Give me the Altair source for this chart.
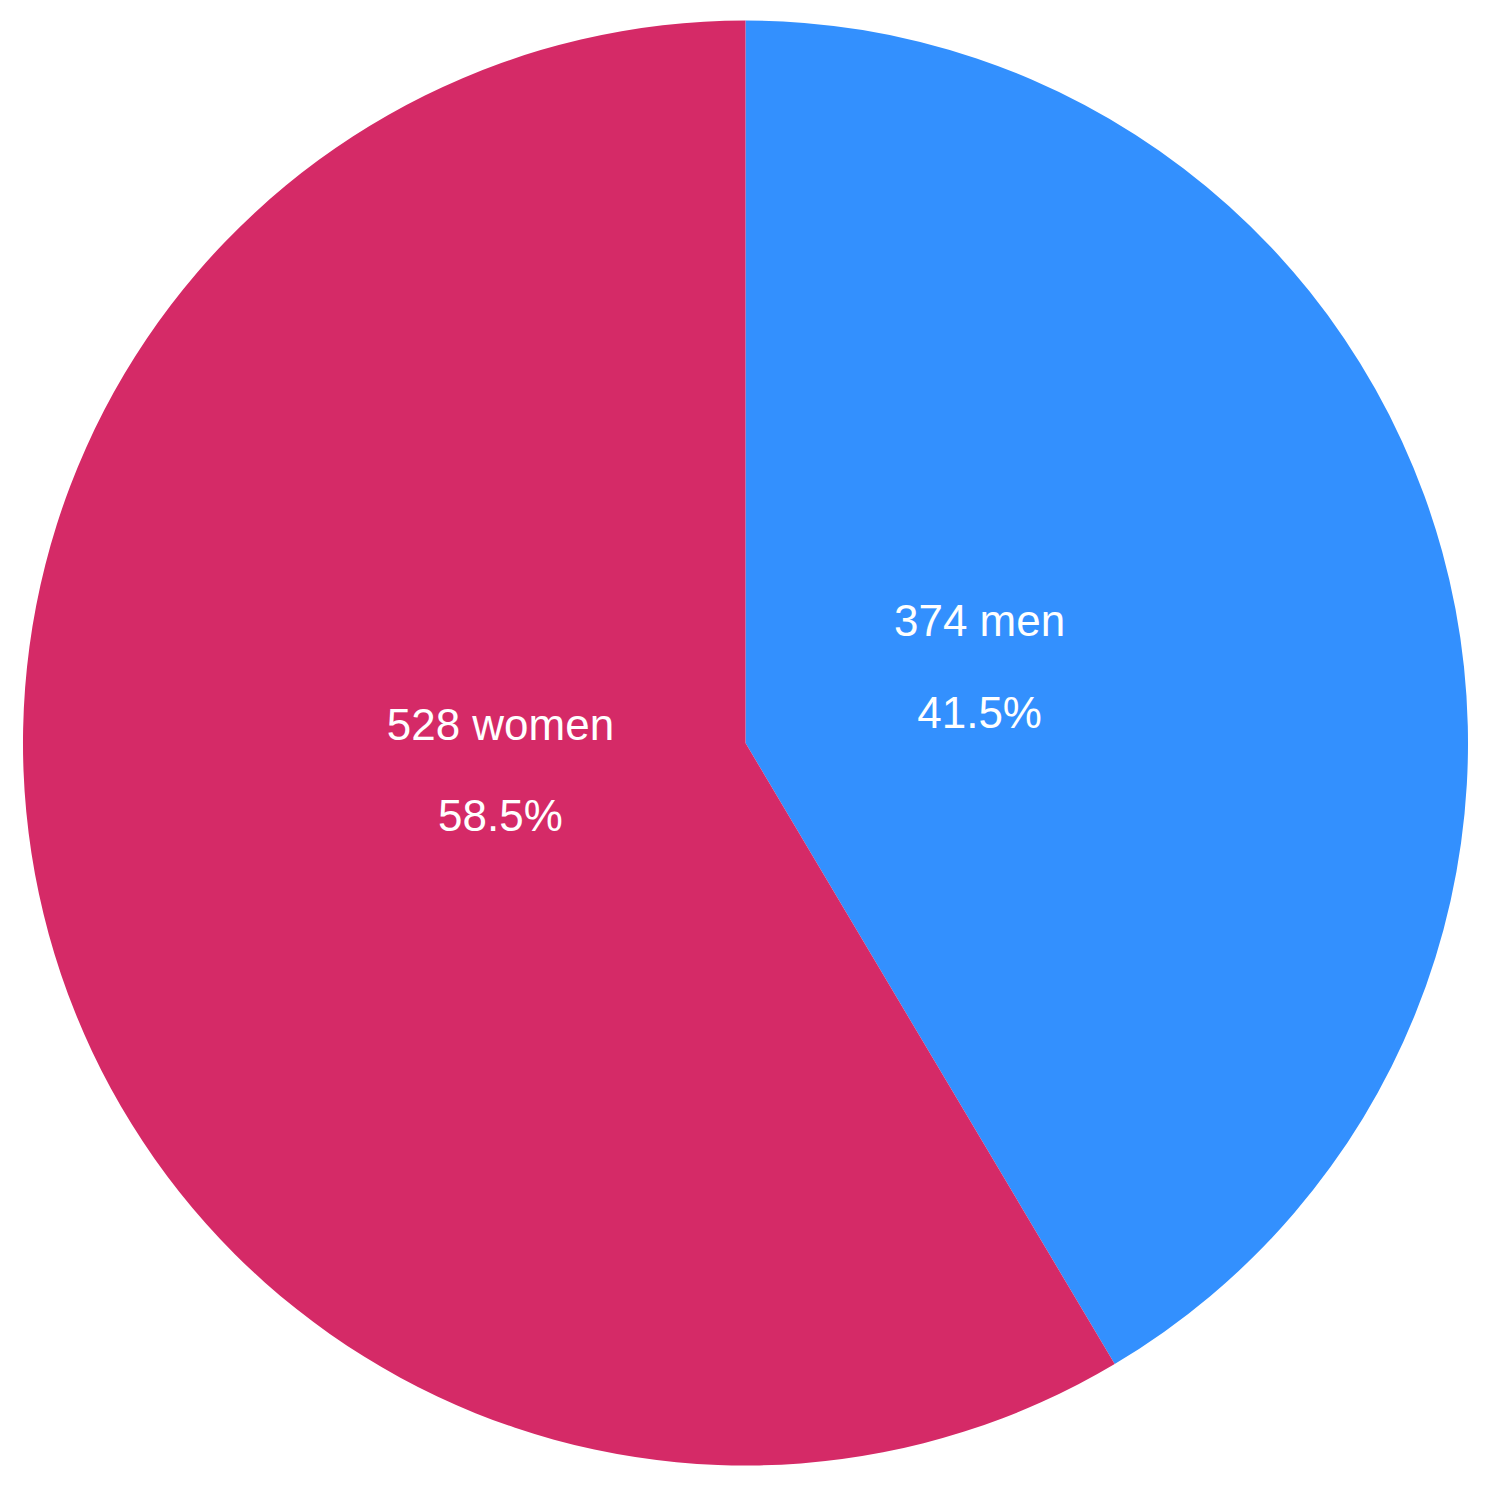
import altair as alt
import pandas as pd

categories = ["men", "women"]
counts = [374, 528]
percents = ["41.5%", "58.5%"]
colors = ["#3390FE", "#D52A67"]

df = pd.DataFrame({
    "category": categories,
    "count": counts,
    "pct": percents,
    "order": [0, 1],
})
df["label"] = df["count"].astype(str) + " " + df["category"]

base = alt.Chart(df)

pie = base.mark_arc(outerRadius=723, stroke=None).encode(
    theta=alt.Theta("count:Q", stack=True),
    order=alt.Order("order:Q"),
    color=alt.Color("category:N", scale=alt.Scale(domain=categories, range=colors), legend=None),
)

txt_base = base.transform_window(
    cum="sum(count)", sort=[alt.SortField("order")], frame=[None, 0]
).transform_calculate(mid="datum.cum - datum.count / 2")

txt_kw = dict(font="Liberation Sans", fontSize=44, color="white", align="center", baseline="middle")

layers = [pie]
offsets = {"men": (-2, -55, 37), "women": (-9, -81, 10)}
for cat, (dx, d1, d2) in offsets.items():
    b = txt_base.transform_filter(alt.datum.category == cat).encode(
        theta=alt.Theta("mid:Q", stack=None)
    )
    layers.append(b.mark_text(radius=245, dx=dx, dy=d1, **txt_kw).encode(text="label:N"))
    layers.append(b.mark_text(radius=245, dx=dx, dy=d2, **txt_kw).encode(text="pct:N"))

chart = alt.layer(*layers).properties(
    width=1476, height=1470, padding=0, autosize="none"
).configure_view(stroke=None)

chart.save("out.html", embed_options={"renderer": "svg", "actions": False})
